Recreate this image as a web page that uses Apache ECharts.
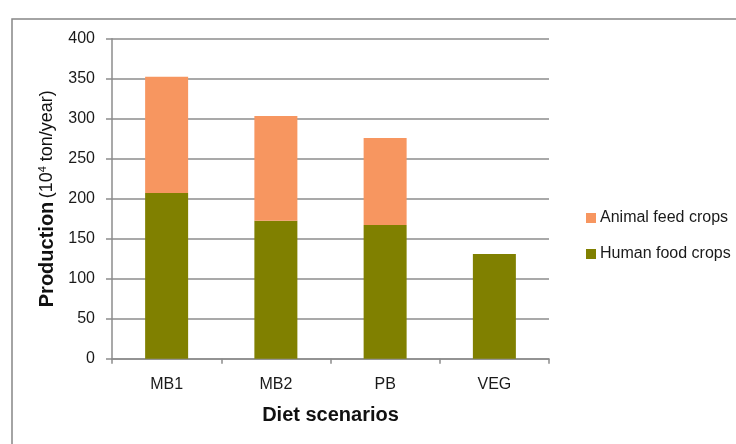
<!DOCTYPE html>
<html>
<head>
<meta charset="utf-8">
<script src="https://cdn.jsdelivr.net/npm/echarts@6/dist/echarts.min.js"></script>
<style>
html,body{margin:0;padding:0;background:#fff;}
#main{width:736px;height:444px;}
</style>
</head>
<body>
<div id="main"></div>
<script>
var categories = ['MB1', 'MB2', 'PB', 'VEG'];
var humanFood = [207, 172.5, 167, 131];
var animalFeed = [145.5, 131, 109, 0];
var yTicks = [0, 50, 100, 150, 200, 250, 300, 350, 400];

var chart = echarts.init(document.getElementById('main'));
var font = '"Liberation Sans", Arial, sans-serif';
chart.setOption({
  animation: false,
  textStyle: {fontFamily: font},
  graphic: [{
    type: 'rect', left: 9.5, top: 16.5,
    shape: {x: 0, y: 0, width: 800, height: 500},
    style: {fill: 'none', stroke: '#878787', lineWidth: 1.5},
    silent: true
  }],
  grid: {left: 112, right: 187, top: 38.7, bottom: 85.3},
  legend: {
    orient: 'vertical', left: 581, top: 205, itemGap: 20,
    itemWidth: 10, itemHeight: 10, icon: 'rect',
    data: ['Animal feed crops', 'Human food crops'],
    textStyle: {fontSize: 16, lineHeight: 16, color: '#1a1a1a', fontFamily: font, padding: [0, 0, 0, -1]}
  },
  xAxis: {
    type: 'category', data: categories,
    name: 'Diet scenarios', nameLocation: 'middle', nameGap: 47,
    nameTextStyle: {fontSize: 20, fontWeight: 'bold', color: '#111', fontFamily: font},
    axisLine: {lineStyle: {color: '#8c8c8c', width: 1.5}},
    axisTick: {show: true, length: 5, lineStyle: {color: '#8c8c8c', width: 1.5}},
    axisLabel: {fontSize: 16, color: '#1a1a1a', margin: 18}
  },
  yAxis: {
    type: 'value', min: 0, max: 400, interval: 50,
    name: '{b|Production} {n|(10}{s|4}{n| ton/year)}', nameLocation: 'middle', nameGap: 50,
    nameRotate: 90,
    nameTextStyle: {
      rich: {
        b: {fontSize: 20, fontWeight: 'bold', color: '#111', fontFamily: font},
        n: {fontSize: 18, color: '#111', fontFamily: font},
        s: {fontSize: 11, color: '#111', fontFamily: font, verticalAlign: 'top', padding: [0, 0, 9, 0]}
      }
    },
    axisLine: {show: true, lineStyle: {color: '#8c8c8c', width: 1.5}},
    axisTick: {show: true, inside: false, length: 6, lineStyle: {color: '#8c8c8c', width: 1.5}},
    axisLabel: {fontSize: 16, color: '#1a1a1a', margin: 17,
      formatter: function (v) { return yTicks.indexOf(v) >= 0 ? String(v) : ''; }},
    splitLine: {show: true, lineStyle: {color: '#8c8c8c', width: 1.5}}
  },
  series: [
    {name: 'Human food crops', type: 'bar', stack: 'total', data: humanFood,
      barWidth: 43, itemStyle: {color: '#808000'}},
    {name: 'Animal feed crops', type: 'bar', stack: 'total', data: animalFeed,
      barWidth: 43, itemStyle: {color: '#F79660'}}
  ]
});
</script>
</body>
</html>
